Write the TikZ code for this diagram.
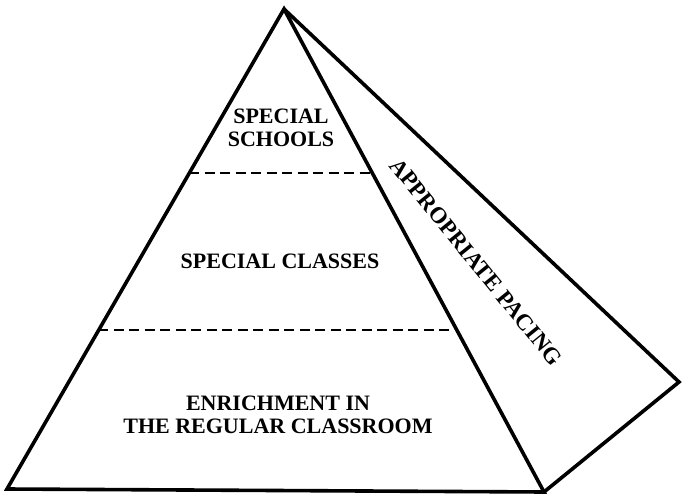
\documentclass[tikz,border=0pt]{standalone}
\usepackage{fontspec}
\setmainfont{Liberation Serif}
\begin{document}
\begin{tikzpicture}[x=1pt,y=-1pt,
  edge/.style={line width=3.6pt,line join=miter,line cap=butt},
  level/.style={line width=2.6pt,dash pattern=on 10pt off 5.5pt},
  label/.style={font=\bfseries\fontsize{22}{22.5}\selectfont,align=center,inner sep=0pt}]
\useasboundingbox (0,0) rectangle (682,497);
\coordinate (A) at (284,9);
\coordinate (BL) at (7,489);
\coordinate (BR) at (544,492);
\coordinate (R) at (679,382);
\coordinate (L1l) at (189,173);
\coordinate (L1r) at (372,173);
\coordinate (L2l) at (98,330);
\coordinate (L2r) at (457,330);
\draw[edge] (A) -- (BL) -- (BR) -- cycle;
\draw[edge] (BR) -- (R) -- (A);
\draw[level] (L1l) -- (L1r);
\draw[level] (L2l) -- (L2r);
\node[label] (schools) at (281,128) {SPECIAL\\SCHOOLS};
\node[label] (classes) at (280,261) {SPECIAL CLASSES};
\node[label] (enrich) at (278,415) {ENRICHMENT IN\\THE REGULAR CLASSROOM};
\node[label,font=\bfseries\fontsize{23}{23}\selectfont,rotate=-51] (pacing) at (476,262) {APPROPRIATE PACING};
\end{tikzpicture}
\end{document}
